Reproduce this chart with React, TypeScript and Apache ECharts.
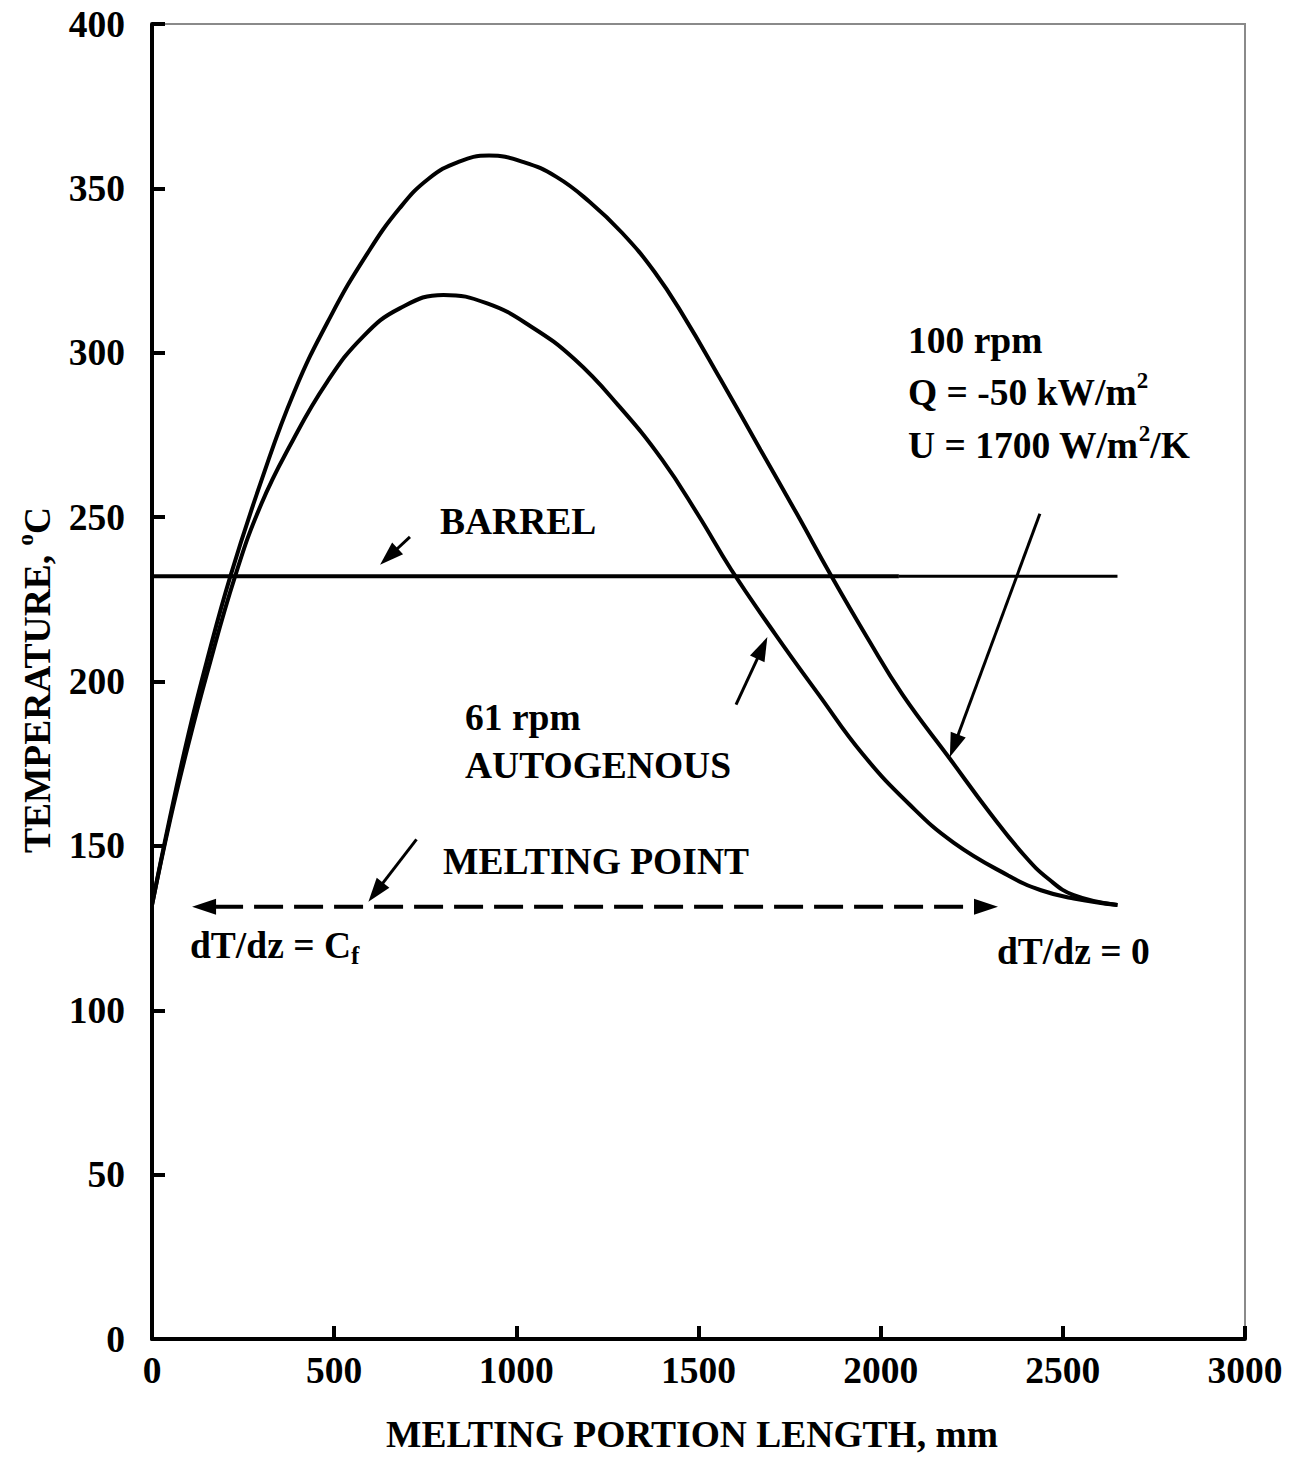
import React, { useEffect, useRef } from "react";
import * as echarts from "echarts";

// ---- data ----
const upperX = [0, 50, 100, 150, 215, 300, 390, 490, 590, 680, 760, 840, 925, 1020, 1110, 1200, 1290, 1380, 1460, 1560, 1670, 1770, 1865, 1965, 2060, 2190, 2300, 2395, 2460, 2530, 2650];
const upperT = [132, 159, 184, 206, 232, 261, 288, 311, 330, 344, 353, 358, 360, 358, 353.5, 346, 336.5, 324.5, 311, 292, 270.5, 251, 232, 213, 196, 176.5, 160, 147, 140, 135, 132];
const lowerX = [0, 50, 100, 150, 228, 300, 380, 480, 580, 680, 800, 920, 1040, 1160, 1280, 1400, 1500, 1590, 1710, 1830, 1950, 2080, 2200, 2350, 2440, 2530, 2650];
const lowerT = [132, 158, 181, 202, 232, 254, 272, 291, 305, 313.5, 317.6, 315, 308, 298, 284, 267.5, 250.5, 234, 214.5, 196, 178, 162.5, 151, 141, 136.5, 134, 132];
const barrelT = 232;
const barrelX = [0, 2050, 2650];
const meltT = 131.5;
const meltArrow = [[110, meltT, 2322, meltT]];
// pointer arrows: [tailX, tailT, tipX, tipT]
const pointerArrows = [
  [708, 244, 626, 235.5],
  [726, 152, 594, 133],
  [1603, 193, 1689, 213.5],
  [2437, 251, 2190, 177],
];

const FONT = '"Liberation Serif", "Times New Roman", serif';
const FS = 37.5;

function arrowRenderer(headLen: number, headW: number, lineW: number, dash: number[] | null, both: boolean) {
  return (params: any, api: any) => {
    const a = api.coord([api.value(0), api.value(1)]);
    const b = api.coord([api.value(2), api.value(3)]);
    const dx = b[0] - a[0];
    const dy = b[1] - a[1];
    const L = Math.hypot(dx, dy) || 1;
    const ux = dx / L;
    const uy = dy / L;
    const px = -uy;
    const py = ux;
    const head = (tip: number[], sx: number, sy: number) => {
      const bx = tip[0] - sx * headLen;
      const by = tip[1] - sy * headLen;
      return {
        type: "polygon",
        shape: {
          points: [
            [tip[0], tip[1]],
            [bx + px * headW / 2, by + py * headW / 2],
            [bx - px * headW / 2, by - py * headW / 2],
          ],
        },
        style: { fill: "#000" },
      };
    };
    const start = both ? [a[0] + ux * (headLen - 2), a[1] + uy * (headLen - 2)] : a;
    const end = [b[0] - ux * (headLen - 2), b[1] - uy * (headLen - 2)];
    const children: any[] = [
      {
        type: "line",
        shape: { x1: start[0], y1: start[1], x2: end[0], y2: end[1] },
        style: { stroke: "#000", lineWidth: lineW, lineDash: dash || undefined, fill: null },
      },
      head(b, ux, uy),
    ];
    if (both) children.push(head(a, -ux, -uy));
    return { type: "group", children };
  };
}

export default function App() {
  const ref = useRef<HTMLDivElement>(null);
  useEffect(() => {
    if (!ref.current) return;
    const chart = echarts.init(ref.current, undefined, { renderer: "svg" });
    const baseText = { fontSize: FS, fontWeight: "bold", fontFamily: FONT, color: "#000" };
    const rich = {
      a: { fontSize: FS, fontWeight: "bold", fontFamily: FONT, lineHeight: 46, fill: "#000" },
      sup: { fontSize: 23, fontWeight: "bold", fontFamily: FONT, lineHeight: 23, verticalAlign: "top", fill: "#000" },
      sub: { fontSize: 25, fontWeight: "bold", fontFamily: FONT, lineHeight: 25, verticalAlign: "bottom", fill: "#000" },
    };
    const txt = (x: number, y: number, text: string, extra: any = {}) => ({
      type: "text",
      x,
      y,
      silent: true,
      ...extra,
      style: {
        text,
        rich,
        fill: "#000",
        fontSize: FS,
        fontWeight: "bold",
        fontFamily: FONT,
        align: extra.align || "left",
        verticalAlign: "middle",
      },
    });
    const axisCommon = {
      type: "value",
      axisLine: { show: true, onZero: false, lineStyle: { color: "#000", width: 4, cap: "round" } },
      axisTick: { show: true, inside: true, length: 13, lineStyle: { color: "#000", width: 4 } },
      splitLine: { show: false },
    };
    const lineSeries = (xs: number[], ts: number[]) => ({
      type: "line",
      data: xs.map((x, i) => [x, ts[i]]),
      showSymbol: false,
      symbol: "none",
      smooth: 0.45,
      silent: true,
      lineStyle: { color: "#000", width: 4 },
    });
    const option: any = {
      animation: false,
      grid: {
        left: 152,
        right: 51,
        top: 24,
        bottom: 134,
        show: true,
        borderColor: "#8a8a8a",
        borderWidth: 2,
        backgroundColor: "transparent",
      },
      xAxis: {
        ...axisCommon,
        min: 0,
        max: 3000,
        interval: 500,
        axisLabel: { ...baseText, margin: 12, formatter: (v: number) => String(v) },
      },
      yAxis: {
        ...axisCommon,
        min: 0,
        max: 400,
        interval: 50,
        axisLabel: { ...baseText, margin: 27, formatter: (v: number) => String(v) },
      },
      series: [
        lineSeries(upperX, upperT),
        lineSeries(lowerX, lowerT),
        {
          type: "line",
          data: [[barrelX[0], barrelT], [barrelX[1], barrelT]],
          showSymbol: false,
          symbol: "none",
          silent: true,
          lineStyle: { color: "#000", width: 4 },
        },
        {
          type: "line",
          data: [[barrelX[1], barrelT], [barrelX[2], barrelT]],
          showSymbol: false,
          symbol: "none",
          silent: true,
          lineStyle: { color: "#000", width: 3 },
        },
        {
          type: "custom",
          silent: true,
          dimensions: ["x1", "y1", "x2", "y2"],
          encode: { x: ["x1", "x2"], y: ["y1", "y2"] },
          data: meltArrow,
          renderItem: arrowRenderer(24, 16, 4, [29, 11], true),
        },
        {
          type: "custom",
          silent: true,
          dimensions: ["x1", "y1", "x2", "y2"],
          encode: { x: ["x1", "x2"], y: ["y1", "y2"] },
          data: pointerArrows,
          renderItem: arrowRenderer(24, 16, 3, null, false),
        },
      ],
      graphic: [
        txt(37, 680, "{a|TEMPERATURE, }{sup|o}{a|C}", { rotation: Math.PI / 2, align: "center" }),
        txt(692, 1434, "{a|MELTING PORTION LENGTH, mm}", { align: "center" }),
        txt(440, 521, "{a|BARREL}"),
        txt(465, 717, "{a|61 rpm}"),
        txt(465, 765, "{a|AUTOGENOUS}"),
        txt(443, 861, "{a|MELTING POINT}"),
        txt(190, 945, "{a|dT/dz = C}{sub|f}"),
        txt(997, 951, "{a|dT/dz = 0}"),
        txt(908, 340, "{a|100 rpm}"),
        txt(908, 392, "{a|Q = -50 kW/m}{sup|2}"),
        txt(908, 445, "{a|U = 1700 W/m}{sup|2}{a|/K}"),
      ],
    };
    chart.setOption(option);
    return () => chart.dispose();
  }, []);
  return (
    <div
      ref={ref}
      style={{ position: "absolute", left: 0, top: 0, width: 1296, height: 1473, background: "#fff" }}
    />
  );
}
